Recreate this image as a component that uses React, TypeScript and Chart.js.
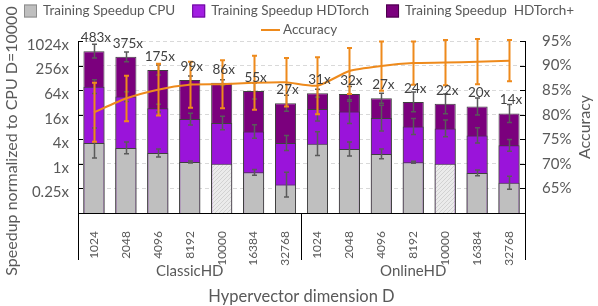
import React, { useEffect, useRef } from 'react';
import { Chart, registerables } from 'chart.js';

Chart.register(...registerables);

const FONT = 'Lato';
const TEXT = '#595959';
const DARK = '#404040';

// ---- data ----
const dims = ['1024', '2048', '4096', '8192', '10000', '16384', '32768'];
const groups = ['ClassicHD', 'OnlineHD'];
const baselineDim = '10000';
const categories = groups.flatMap(() => dims);

const cpuSpeedup = [3.25, 2.46, 1.85, 1.11, 1, 0.62, 0.31, 3.12, 2.32, 1.75, 1.1, 1, 0.6, 0.345];
const hdtorchSpeedup = [77.9, 44.4, 23.2, 12.5, 10, 6.23, 3.25, 22.0, 19.1, 13.2, 8.25, 7.38, 4.98, 2.84];
const hdtorchPlusSpeedup = [578, 420, 199, 113.5, 97.5, 61.2, 30.7, 53.8, 51.7, 40.6, 33.0, 29.5, 25.4, 17.1];

// multiplicative error factors (value / f .. value * f)
const cpuErr = [2.32, 1.4, 1.25, 1.06, 1, 1.18, 2.02, 1.96, 1.48, 1.32, 1.06, 1, 1.18, 1.44];
const hdtorchErr = [1.48, 1.32, 1.25, 1.4, 1.46, 1.46, 1.52, 1.96, 1.96, 2.07, 1.57, 1.61, 1.54, 1.4];
const hdtorchPlusErr = [1.48, 1.32, 1.32, 1.25, 1.18, 1.57, 1.57, 1.25, 1.52, 1.32, 1.75, 1.75, 1.61, 1.66];

const accuracy = [80.5, 83.3, 85.1, 86.1, 86.2, 86.5, 86.6, 85.9, 88.9, 89.9, 90.5, 90.6, 90.8, 91.0];
const accuracyErr = [6.0, 4.65, 5.25, 4.7, 4.9, 5.5, 4.95, 5.8, 4.7, 5.0, 4.4, 4.6, 4.6, 4.2];

const speedupLabels = ['483x', '375x', '175x', '99x', '86x', '55x', '27x', '31x', '32x', '27x', '24x', '22x', '20x', '14x'];

const leftTicks = [0.0625, 0.25, 1, 4, 16, 64, 256, 1024];

const yTitle = 'Speedup normalized to CPU D=10000';
const y1Title = 'Accuracy';
const xTitle = 'Hypervector dimension D';

const seriesNames = ['Training Speedup CPU', 'Training Speedup HDTorch', 'Training Speedup  HDTorch+', 'Accuracy'];
const colors = { cpu: '#BFBFBF', hdt: '#9A14DA', hdtp: '#7B007D', acc: '#EE8A1C' };

function makeHatch(): CanvasPattern | string {
  const c = document.createElement('canvas');
  c.width = 4;
  c.height = 4;
  const g = c.getContext('2d');
  if (!g) return '#E0E0E0';
  g.fillStyle = '#EBEBEB';
  g.fillRect(0, 0, 4, 4);
  g.fillStyle = '#D2D2D2';
  for (let k = 0; k < 4; k++) g.fillRect(k, 3 - k, 1, 1);
  return g.createPattern(c, 'repeat') || '#E0E0E0';
}

const errorInfo: Record<number, { f: number[]; mult: boolean; color: string; width: number }> = {
  0: { f: cpuErr, mult: true, color: '#5A5A5A', width: 1.5 },
  1: { f: hdtorchErr, mult: true, color: '#5A5A5A', width: 1.5 },
  2: { f: hdtorchPlusErr, mult: true, color: '#5A5A5A', width: 1.5 },
  3: { f: accuracyErr, mult: false, color: colors.acc, width: 2 },
};

const decorPlugin = {
  id: 'decor',
  afterDatasetDraw(chart: any, args: any) {
    const info = errorInfo[args.index];
    if (!info) return;
    const ctx = chart.ctx;
    const meta = args.meta;
    const scale = chart.scales[meta.yAxisID];
    const data = chart.data.datasets[args.index].data as number[];
    ctx.save();
    ctx.strokeStyle = info.color;
    ctx.lineWidth = info.width;
    meta.data.forEach((el: any, j: number) => {
      const v = data[j];
      const e = info.f[j];
      const hi = info.mult ? v * e : v + e;
      const lo = info.mult ? v / e : v - e;
      if (hi === lo) return;
      const x = Math.round(el.x) + 0.5;
      const y1 = scale.getPixelForValue(hi);
      const y2 = scale.getPixelForValue(lo);
      ctx.beginPath();
      ctx.moveTo(x, y1);
      ctx.lineTo(x, y2);
      ctx.moveTo(x - 2.5, y1);
      ctx.lineTo(x + 2.5, y1);
      ctx.moveTo(x - 2.5, y2);
      ctx.lineTo(x + 2.5, y2);
      ctx.stroke();
    });
    ctx.restore();
  },
  afterDraw(chart: any) {
    const ctx = chart.ctx;
    const area = chart.chartArea;
    const xs = chart.scales.x;
    const ys = chart.scales.y;
    const y1s = chart.scales.y1;
    ctx.save();

    // data labels above HDTorch+ bars
    const metaP = chart.getDatasetMeta(2);
    ctx.fillStyle = DARK;
    ctx.font = `13.5px ${FONT}`;
    ctx.textAlign = 'center';
    ctx.textBaseline = 'middle';
    metaP.data.forEach((el: any, j: number) => {
      ctx.fillText(speedupLabels[j], el.x + 2, el.y - 13.5);
    });

    // axis extensions / dividers and inward ticks
    ctx.strokeStyle = '#000';
    ctx.lineWidth = 1;
    const half = (xs.getPixelForValue(1) - xs.getPixelForValue(0)) / 2;
    const bounds = [0, dims.length, categories.length].map((k, idx) =>
      idx === 2 ? xs.getPixelForValue(k - 1) + half : xs.getPixelForValue(k) - half
    );
    ctx.beginPath();
    bounds.forEach((b) => {
      const bx = Math.round(b) + 0.5;
      ctx.moveTo(bx, area.bottom);
      ctx.lineTo(bx, area.bottom + 47);
    });
    ys.ticks.forEach((t: any) => {
      const py = Math.round(ys.getPixelForValue(t.value)) + 0.5;
      ctx.moveTo(area.left, py);
      ctx.lineTo(area.left + 5, py);
    });
    y1s.ticks.forEach((t: any) => {
      const py = Math.round(y1s.getPixelForValue(t.value)) + 0.5;
      ctx.moveTo(area.right, py);
      ctx.lineTo(area.right - 5, py);
    });
    ctx.stroke();

    // group labels
    ctx.fillStyle = TEXT;
    ctx.font = `15px ${FONT}`;
    groups.forEach((g, gi) => {
      const cx = (xs.getPixelForValue(gi * dims.length) + xs.getPixelForValue(gi * dims.length + dims.length - 1)) / 2;
      ctx.fillText(g, cx, area.bottom + 58);
    });

    // x title
    ctx.font = `16.5px ${FONT}`;
    ctx.fillText(xTitle, (area.left + area.right) / 2, area.bottom + 84);

    // left title
    ctx.save();
    ctx.translate(12, 141);
    ctx.rotate(-Math.PI / 2);
    ctx.font = `16px ${FONT}`;
    ctx.fillText(yTitle, 0, 0);
    ctx.restore();

    // right title
    ctx.save();
    ctx.translate(585, (area.top + area.bottom) / 2);
    ctx.rotate(-Math.PI / 2);
    ctx.font = `16px ${FONT}`;
    ctx.fillText(y1Title, 0, 0);
    ctx.restore();

    // legend
    ctx.font = `13.5px ${FONT}`;
    ctx.textAlign = 'left';
    const items = chart.data.datasets.map((ds: any) => ({
      label: ds.label as string,
      isLine: ds.type === 'line',
      fill: ds.legendFill as string,
      stroke: ds.legendStroke as string,
    }));
    const widths = items.map((it: any) => (it.isLine ? 22 : 19) + ctx.measureText(it.label).width);
    const gap = 17;
    const maxW = chart.width - 20;
    const rows: number[][] = [];
    let cur: number[] = [];
    let curW = 0;
    items.forEach((_: any, i: number) => {
      const add = (cur.length ? gap : 0) + widths[i];
      if (cur.length && curW + add > maxW) {
        rows.push(cur);
        cur = [];
        curW = 0;
      }
      curW += (cur.length ? gap : 0) + widths[i];
      cur.push(i);
    });
    if (cur.length) rows.push(cur);
    rows.forEach((row, ri) => {
      const total = row.reduce((s, i) => s + widths[i], 0) + gap * (row.length - 1);
      let x = Math.round((chart.width - total) / 2);
      const cy = 11 + ri * 19;
      row.forEach((i) => {
        const it = items[i];
        if (it.isLine) {
          ctx.strokeStyle = it.stroke;
          ctx.lineWidth = 2;
          ctx.beginPath();
          ctx.moveTo(x, cy);
          ctx.lineTo(x + 19, cy);
          ctx.stroke();
          ctx.fillStyle = TEXT;
          ctx.fillText(it.label, x + 22, cy);
        } else {
          ctx.fillStyle = it.fill;
          ctx.fillRect(x, cy - 6.5, 13, 13);
          ctx.strokeStyle = it.stroke;
          ctx.lineWidth = 1;
          ctx.strokeRect(x + 0.5, cy - 6, 12, 12);
          ctx.fillStyle = TEXT;
          ctx.fillText(it.label, x + 19, cy);
        }
        x += widths[i] + gap;
      });
    });

    ctx.restore();
  },
};

export default function App() {
  const ref = useRef<HTMLCanvasElement | null>(null);

  useEffect(() => {
    if (!ref.current) return;
    const hatch = makeHatch();
    const barCommon = {
      grouped: false,
      categoryPercentage: 1,
      barPercentage: 0.66,
      borderWidth: 1,
      borderColor: DARK,
      yAxisID: 'y',
    };
    const chart = new Chart(ref.current, {
      type: 'bar',
      data: {
        labels: categories,
        datasets: [
          {
            ...barCommon,
            label: seriesNames[0],
            data: cpuSpeedup,
            order: 1,
            backgroundColor: (c: any) => (categories[c.dataIndex] === baselineDim ? hatch : colors.cpu),
            legendFill: colors.cpu,
            legendStroke: '#8C8C8C',
          } as any,
          {
            ...barCommon,
            label: seriesNames[1],
            data: hdtorchSpeedup,
            order: 2,
            backgroundColor: colors.hdt,
            legendFill: '#A21EE2',
            legendStroke: '#6A0A99',
          } as any,
          {
            ...barCommon,
            label: seriesNames[2],
            data: hdtorchPlusSpeedup,
            order: 3,
            backgroundColor: colors.hdtp,
            legendFill: colors.hdtp,
            legendStroke: '#4A004A',
          } as any,
          {
            type: 'line',
            label: seriesNames[3],
            data: accuracy,
            order: 0,
            yAxisID: 'y1',
            borderColor: colors.acc,
            borderWidth: 2,
            pointRadius: 0,
            tension: 0.2,
            fill: false,
            legendStroke: colors.acc,
          } as any,
        ],
      },
      options: {
        responsive: false,
        animation: false,
        devicePixelRatio: 1,
        events: [],
        layout: { padding: { top: 41, left: 8, right: 0, bottom: 0 } },
        plugins: { legend: { display: false }, tooltip: { enabled: false }, title: { display: false } },
        scales: {
          x: {
            type: 'category',
            grid: { display: false },
            border: { display: true, color: '#000', width: 1 },
            ticks: {
              autoSkip: false,
              maxRotation: 90,
              minRotation: 90,
              padding: 10,
              color: TEXT,
              font: { family: FONT, size: 12 },
            },
            afterFit: (s: any) => {
              s.height = 93;
            },
          },
          y: {
            type: 'logarithmic',
            position: 'left',
            min: leftTicks[0],
            max: leftTicks[leftTicks.length - 1],
            afterBuildTicks: (s: any) => {
              s.ticks = leftTicks.map((v) => ({ value: v }));
            },
            grid: { display: true, color: '#D9D9D9', lineWidth: 1, drawTicks: false },
            border: { display: true, color: '#000', width: 1, dash: [4, 3] },
            ticks: {
              padding: 9,
              labelOffset: 4,
              color: TEXT,
              font: { family: FONT, size: 15 },
              callback: (v: any) => (Number(v) < 0.25 ? '' : `${Number(v)}x`),
            },
            afterFit: (s: any) => {
              s.width = 70;
            },
          },
          y1: {
            type: 'linear',
            position: 'right',
            min: 60,
            max: 95,
            grid: { display: false, drawTicks: false },
            border: { display: true, color: '#000', width: 1 },
            ticks: {
              stepSize: 5,
              padding: 17,
              color: TEXT,
              font: { family: FONT, size: 15 },
              callback: (v: any) => (Number(v) === 60 ? '' : `${v}%`),
            },
            afterFit: (s: any) => {
              s.width = 73;
            },
          },
        },
      } as any,
      plugins: [decorPlugin],
    });
    return () => chart.destroy();
  }, []);

  return (
    <div style={{ position: 'fixed', left: 0, top: 0, width: 598, height: 306, background: '#fff' }}>
      <canvas ref={ref} width={598} height={306} style={{ display: 'block', width: 598, height: 306 }} />
    </div>
  );
}
